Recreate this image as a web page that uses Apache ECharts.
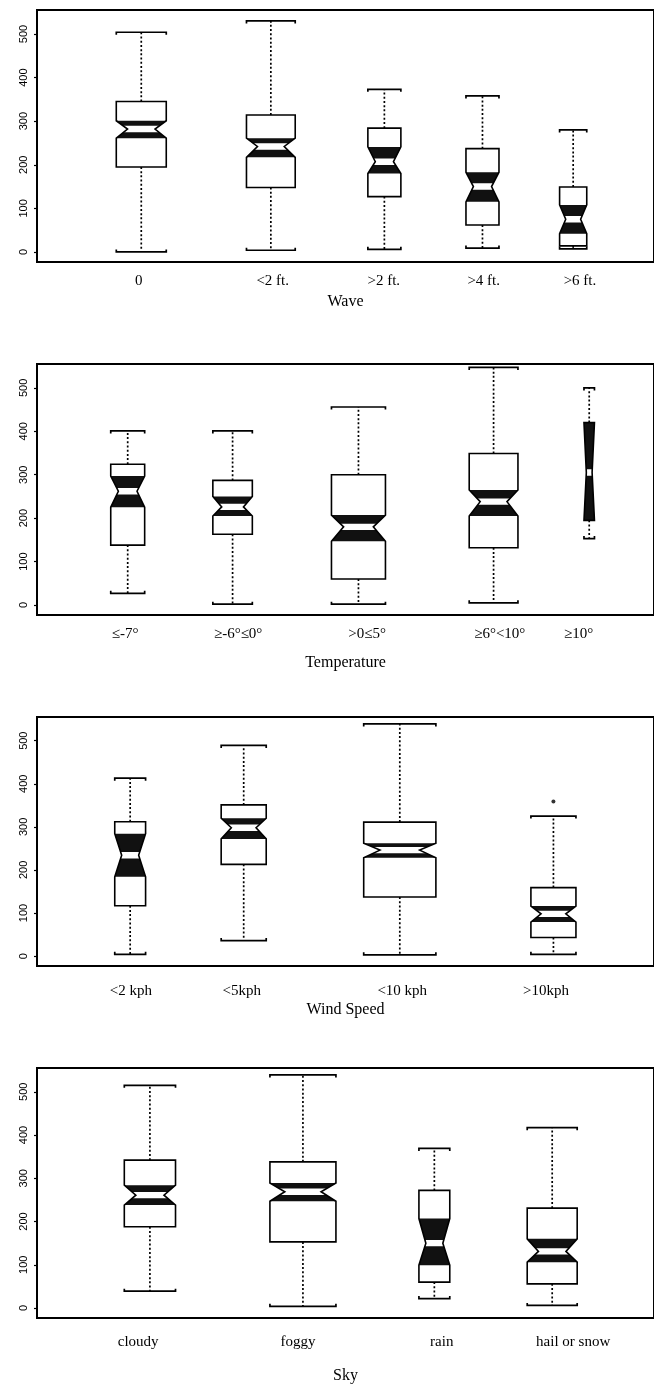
<!DOCTYPE html>
<html><head><meta charset="utf-8">
<script src="https://cdn.jsdelivr.net/npm/echarts@6/dist/echarts.min.js"></script>
<style>html,body{margin:0;padding:0;background:#fff}#c{width:654px;height:1386px}</style>
</head><body><div id="c"></div>
<script>
// ---- data: each box = [whiskerLow, Q1, notchLow, median, notchHigh, Q3, whiskerHigh]
const waveCats = ['0', '<2 ft.', '>2 ft.', '>4 ft.', '>6 ft.'];
const waveStats = [
  [0, 195, 261, 282, 301, 345, 504],
  [4, 148, 217, 242, 261, 314, 530],
  [6, 127, 180, 207, 241, 284, 373],
  [9, 62, 115, 150, 183, 237, 358],
  [7, 14, 42, 75, 108, 149, 280]
];
const wavePos = [16.9, 37.9, 56.3, 72.2, 86.9];
const waveWidth = [8.1, 7.9, 5.35, 5.35, 4.4];
const waveLabelPos = [16.5, 38.2, 56.2, 72.4, 88.0];

const tempCats = ['≤-7°', '≥-6°≤0°', '>0≤5°', '≥6°<10°', '≥10°'];
const tempStats = [
  [27, 138, 225, 262, 297, 324, 401],
  [2, 163, 205, 226, 250, 287, 401],
  [2, 60, 147, 180, 207, 300, 456],
  [5, 132, 205, 238, 265, 349, 547],
  [153, 195, 195, 305, 420, 420, 500]
];
const tempPos = [14.7, 31.7, 52.1, 74.0, 89.5];
const tempWidth = [5.5, 6.4, 8.75, 7.9, 1.7];
const tempLabelPos = [14.3, 32.6, 53.5, 75.0, 87.8];

const windCats = ['<2 kph', '<5kph', '<10 kph', '>10kph'];
const windStats = [
  [4, 117, 184, 234, 284, 312, 413],
  [36, 213, 272, 298, 320, 351, 489],
  [3, 137, 228, 246, 262, 311, 539],
  [4, 43, 79, 98, 116, 159, 325]
];
const windPos = [15.1, 33.5, 58.8, 83.7];
const windWidth = [5.0, 7.3, 11.7, 7.3];
const windLabelPos = [15.2, 33.2, 59.2, 82.5];
const windOutliers = [[83.7, 359]];

const skyCats = ['cloudy', 'foggy', 'rain', 'hail or snow'];
const skyStats = [
  [39, 188, 238, 261, 284, 342, 515],
  [4, 153, 247, 269, 289, 338, 539],
  [22, 60, 99, 150, 207, 272, 369],
  [6, 56, 106, 131, 160, 231, 417]
];
const skyPos = [18.3, 43.1, 64.4, 83.5];
const skyWidth = [8.3, 10.7, 5.0, 8.1];
const skyLabelPos = [16.4, 42.3, 65.6, 86.9];

const axisTitles = ['Wave', 'Temperature', 'Wind Speed', 'Sky'];
const yTicks = [0, 100, 200, 300, 400, 500];

// ---- layout
const panels = [
  {cats: waveCats, stats: waveStats, pos: wavePos, width: waveWidth, labelPos: waveLabelPos, top: 10, height: 252, labelMargin: 12, nameGap: 32},
  {cats: tempCats, stats: tempStats, pos: tempPos, width: tempWidth, labelPos: tempLabelPos, top: 364, height: 251, labelMargin: 12, nameGap: 40},
  {cats: windCats, stats: windStats, pos: windPos, width: windWidth, labelPos: windLabelPos, top: 717, height: 249, labelMargin: 18, nameGap: 36},
  {cats: skyCats, stats: skyStats, pos: skyPos, width: skyWidth, labelPos: skyLabelPos, top: 1068, height: 250, labelMargin: 17, nameGap: 50}
];

function renderBox(params, api) {
  const x = api.value(0), w = api.value(1);
  const low = api.value(2), q1 = api.value(3), nlo = api.value(4), med = api.value(5),
        nhi = api.value(6), q3 = api.value(7), high = api.value(8);
  const L = api.coord([x - w / 2, 0])[0], R = api.coord([x + w / 2, 0])[0], C = api.coord([x, 0])[0];
  const y = v => api.coord([x, v])[1];
  const half = (R - L) / 2, waist = half * 0.55;
  const cL = C - waist, cR = C + waist;
  const yq3 = y(q3), yq1 = y(q1), ynh = y(nhi), ynl = y(nlo), ym = y(med), yh = y(high), yl = y(low);
  const outline = [[L, yq3], [R, yq3], [R, ynh], [cR, ym], [R, ynl], [R, yq1], [L, yq1], [L, ynl], [cL, ym], [L, ynh]];
  const notch = [[L, ynh], [R, ynh], [cR, ym], [R, ynl], [L, ynl], [cL, ym]];
  // white median band following notch edges
  const bh = 3.2;
  const hwAt = (yy) => {
    if (yy < ym) { const t = (ym - yy) / Math.max(ym - ynh, 0.001); return waist + (half - waist) * Math.min(t, 1); }
    const t = (yy - ym) / Math.max(ynl - ym, 0.001); return waist + (half - waist) * Math.min(t, 1);
  };
  const y1 = ym - bh, y2 = ym + bh;
  const band = [[C - hwAt(y1), y1], [C + hwAt(y1), y1], [C + waist, ym], [C + hwAt(y2), y2], [C - hwAt(y2), y2], [C - waist, ym]];
  const lw = 1.6;
  const dot = {stroke: '#000', lineWidth: 1.7, lineDash: [2, 2.2]};
  return {
    type: 'group',
    children: [
      {type: 'line', shape: {x1: C, y1: yq3, x2: C, y2: yh}, style: dot},
      {type: 'line', shape: {x1: C, y1: yq1, x2: C, y2: yl}, style: dot},
      {type: 'polyline', shape: {points: [[L, yh + 2.5], [L, yh], [R, yh], [R, yh + 2.5]]}, style: {stroke: '#000', lineWidth: 1.7, fill: null}},
      {type: 'polyline', shape: {points: [[L, yl - 2.5], [L, yl], [R, yl], [R, yl - 2.5]]}, style: {stroke: '#000', lineWidth: 1.7, fill: null}},
      {type: 'polygon', shape: {points: outline}, style: {fill: '#fff', stroke: null}},
      {type: 'polygon', shape: {points: notch}, style: {fill: '#111', stroke: null}},
      {type: 'polygon', shape: {points: band}, style: {fill: '#fff', stroke: null}},
      {type: 'polygon', shape: {points: outline}, style: {fill: null, stroke: '#000', lineWidth: lw, lineJoin: 'miter'}}
    ]
  };
}

const grid = [], xAxis = [], yAxis = [], series = [];
panels.forEach((p, i) => {
  grid.push({left: 37, width: 619, top: p.top, height: p.height, show: true, borderColor: '#000', borderWidth: 2, backgroundColor: 'transparent', containLabel: false});
  xAxis.push({
    gridIndex: i, type: 'value', min: 0, max: 100,
    splitLine: {show: false}, axisLine: {show: false}, axisTick: {show: false},
    axisLabel: {
      customValues: p.labelPos, margin: p.labelMargin, hideOverlap: false,
      fontFamily: 'Liberation Serif', fontSize: 15, color: '#000',
      formatter: v => {
        let best = 0, d = Infinity;
        p.labelPos.forEach((q, k) => { if (Math.abs(q - v) < d) { d = Math.abs(q - v); best = k; } });
        return p.cats[best];
      }
    },
    name: axisTitles[i], nameLocation: 'middle', nameGap: p.nameGap,
    nameTextStyle: {fontFamily: 'Liberation Serif', fontSize: 16, color: '#000'}
  });
  yAxis.push({
    gridIndex: i, type: 'value', min: -23, max: 555,
    splitLine: {show: false}, axisLine: {show: false},
    axisTick: {show: true, customValues: yTicks, length: 3, lineStyle: {color: '#000', width: 1.2}},
    axisLabel: {customValues: yTicks, rotate: 90, margin: 8, fontFamily: 'Liberation Sans', fontSize: 11, color: '#000'}
  });
  series.push({
    type: 'custom', xAxisIndex: i, yAxisIndex: i, renderItem: renderBox, silent: true,
    encode: {x: 0, y: 5},
    data: p.pos.map((x, k) => [x, p.width[k]].concat(p.stats[k]))
  });
});
series.push({
  type: 'scatter', xAxisIndex: 2, yAxisIndex: 2, symbol: 'circle', symbolSize: 4,
  itemStyle: {color: '#000'}, data: windOutliers, silent: true
});

const chart = echarts.init(document.getElementById('c'), null, {renderer: 'canvas'});
chart.setOption({animation: false, backgroundColor: '#fff', grid, xAxis, yAxis, series});
</script></body></html>
